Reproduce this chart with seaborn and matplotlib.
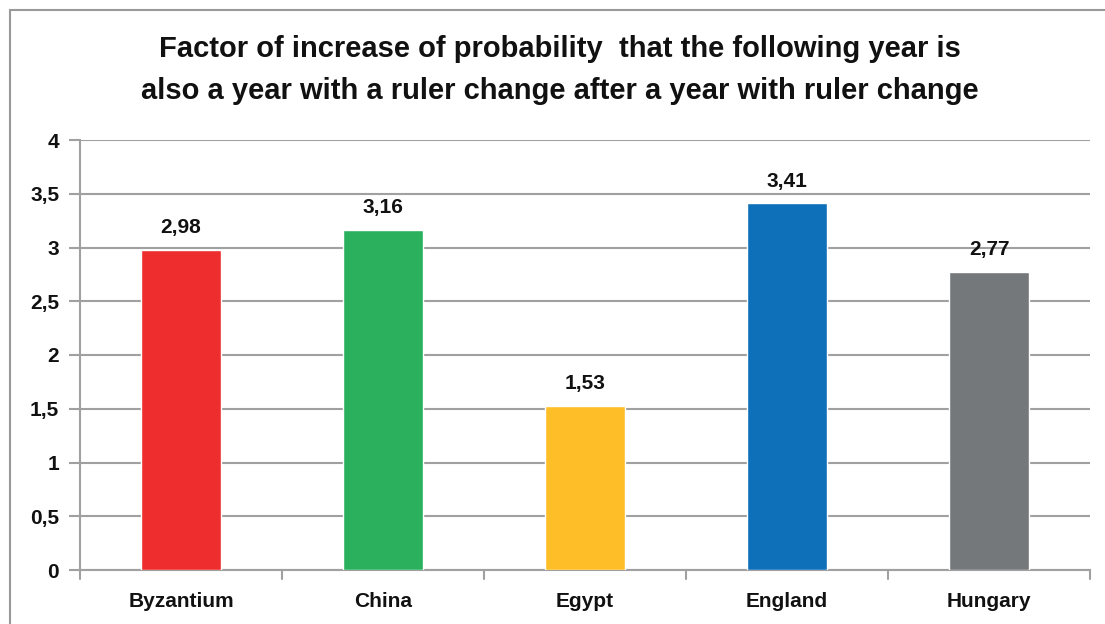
import matplotlib
matplotlib.use("Agg")
import matplotlib.pyplot as plt
import seaborn as sns
import pandas as pd

countries = ["Byzantium", "China", "Egypt", "England", "Hungary"]
factors = [2.98, 3.16, 1.53, 3.41, 2.77]
bar_colors = ["#EE2E2E", "#2BB15E", "#FDBE28", "#0F70BA", "#75787A"]
y_ticks = [0, 0.5, 1, 1.5, 2, 2.5, 3, 3.5, 4]
y_labels = ["0", "0,5", "1", "1,5", "2", "2,5", "3", "3,5", "4"]

sns.set_style("white")
plt.rcParams["font.family"] = ["Liberation Sans Narrow", "Liberation Sans", "DejaVu Sans"]
plt.rcParams["text.color"] = "#111111"
plt.rcParams["xtick.color"] = "#111111"
plt.rcParams["ytick.color"] = "#111111"

df = pd.DataFrame({"Country": countries, "Factor": factors})

fig = plt.figure(figsize=(11.05, 6.24), dpi=100)
ax = fig.add_axes([80 / 1105, 1 - 570 / 624, 1010 / 1105, 430 / 624])

sns.barplot(data=df, x="Country", y="Factor", hue="Country", palette=bar_colors,
            width=0.4, legend=False, ax=ax, zorder=3, saturation=1)

ax.set_ylim(0, 4)
ax.set_xlim(-0.5, len(countries) - 0.5)
ax.set_yticks(y_ticks)
ax.set_yticklabels(y_labels, fontsize=15, fontweight="bold")
ax.set_xticks(range(len(countries)))
ax.set_xticklabels(countries, fontsize=15, fontweight="bold")
ax.tick_params(axis="x", length=0, pad=16)
ax.tick_params(axis="y", length=8, width=1.5, color="#A0A0A0", labelcolor="#111111", pad=7, left=True)
ax.set_xlabel("")
ax.set_ylabel("")
ax.grid(axis="y", color="#A0A0A0", linewidth=1.5, zorder=0)
for s in ["top", "right"]:
    ax.spines[s].set_visible(False)
ax.spines["left"].set_color("#A0A0A0")
ax.spines["left"].set_linewidth(1.5)
ax.spines["bottom"].set_color("#A0A0A0")
ax.spines["bottom"].set_linewidth(1.5)

# category separator ticks below the x axis
for b in [i - 0.5 for i in range(len(countries) + 1)]:
    ax.plot([b, b], [0, -0.08], color="#A0A0A0", linewidth=1.5, clip_on=False)

for i, v in enumerate(factors):
    ax.text(i, v + 0.12, f"{v:.2f}".replace(".", ","), ha="center", va="bottom",
            fontsize=15, fontweight="bold", zorder=4)

fig.text(560 / 1105, 1 - 70 / 624,
         "Factor of increase of probability  that the following year is\nalso a year with a ruler change after a year with ruler change",
         ha="center", va="center", fontsize=21, fontweight="bold", linespacing=1.6)

# chart frame
fig.add_artist(plt.Line2D([10 / 1105, 10 / 1105], [0, 1 - 10 / 624], color="#999999", linewidth=1.5,
                          transform=fig.transFigure))
fig.add_artist(plt.Line2D([10 / 1105, 1], [1 - 10 / 624, 1 - 10 / 624], color="#999999", linewidth=1.5,
                          transform=fig.transFigure))

fig.savefig("out.png", dpi=100)
